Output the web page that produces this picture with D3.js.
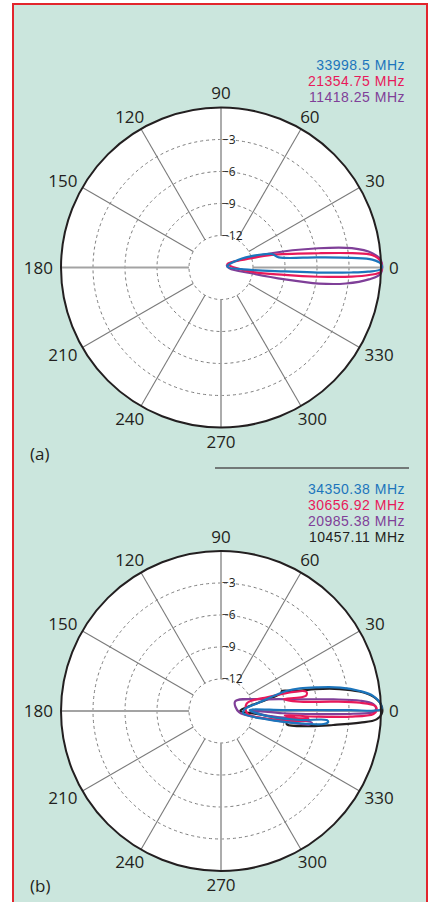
<!DOCTYPE html>
<html>
<head>
<meta charset="utf-8">
<script src="https://cdn.jsdelivr.net/npm/d3@7"></script>
<style>
  html, body { margin: 0; padding: 0; background: #ffffff; }
  svg { display: block; }
  text { font-family: "Open Sans", "Noto Sans", sans-serif; fill: #231f20; }
</style>
</head>
<body>
<div id="chart"></div>
<script>
// ---------------------------------------------------------------------------
// Diagrammi polari (dB) di due antenne, pannelli (a) e (b)
// ---------------------------------------------------------------------------

// tick ------------------------------------------------------------------------
const angleTicks = [0, 30, 60, 90, 120, 150, 180, 210, 240, 270, 300, 330];
const dbTicks = [-3, -6, -9, -12];

// legende ---------------------------------------------------------------------
const legendA = ['33998.5 MHz', '21354.75 MHz', '11418.25 MHz'];
const legendB = ['34350.38 MHz', '30656.92 MHz', '20985.38 MHz', '10457.11 MHz'];

// pannello (a): angolo (gradi) e guadagno (dB) -------------------------------
const a1Ang = [24, 15, 10, 6, 4.2, 3, 1.3, -0.6, -1.6, -2.2, -3, -3.5, -4.5, 8];
const a1Db  = [-13.2, -10.1, -9.5, -5.9, -2.7, -0.8, 0, 0, -1.2, -2.8, -5.9, -9.0, -12.2, -14.4];

const a2Ang = [29, 16.8, 14, 8.3, 6.2, 4.75, 2.1, -1.5, -2.9, -4.0, -5.4, -6.7, -7.9];
const a2Db  = [-14.3, -12.0, -10.1, -5.75, -2.6, -0.8, 0, 0, -1.1, -2.7, -5.8, -9.0, -12.1];

const a3Ang = [22, 15.8, 11.2, 8.4, 5.4, 2.7, -2.1, -4.6, -7.3, -9.3, -10.5, -10.8, -6];
const a3Db  = [-14.4, -10.1, -5.7, -2.6, -0.75, 0, 0, -1.1, -3.2, -5.7, -8.9, -12.1, -14.2];

// pannello (b) ----------------------------------------------------------------
const b1Ang = [4, 12, 17, 16, 13.9, 11.1, 8.2, 5.6, 2.4, 0.6, 0.4, 0.6, 0.9, 2, -6.2, -6.5, -4.9, -5.9, -7.2, -8.9, -10.3, -5.9];
const b1Db  = [-12.8, -11.5, -8.6, -7.3, -5.8, -3.6, -1.85, -0.65, 0, 0, -2.9, -6.0, -9.2, -12.3, -10.7, -7.55, -5.05, -4.9, -5.3, -7.5, -10.6, -12.9];

const b2Ang = [16, 16.7, 12.7, 10.2, 10.6, 6.7, 4.75, 3.4, 1.9, 0.4, -1.1, -2.5, -3.4, -3.8, -5.5, -5.0, -6.3, -8.0, -6];
const b2Db  = [-12.5, -10.5, -6.8, -6.9, -9.0, -7.55, -4.4, -1.95, -0.55, -0.4, -0.7, -2.9, -6.0, -9.0, -8.0, -6.8, -6.9, -8.5, -12.5];

const b3Ang = [34, 14.4, 8.4, 5.9, 4.2, 2.6, 1, -0.4, -1.2, -1.8, -2.1, 0.6, -5.5, -6.3, -7.4, -8.6, -9.5, -9.8, -4];
const b3Db  = [-13.4, -10.6, -7.5, -4.4, -1.9, -0.7, -0.45, -0.7, -2.6, -6.0, -9.2, -12.3, -10.8, -7.6, -6.4, -6.6, -8.5, -11.0, -13.3];

const b4Ang = [5, 16.5, 18.2, 14.8, 13, 10.5, 8, 5.5, 2.4, -0.6, -3.1, -4.8, -7.1, -9.6, -11.5, -8.7, -5, 0];
const b4Db  = [-13.0, -9.1, -9.0, -7.7, -5.9, -3.7, -1.9, -0.7, 0, 0.1, -0.4, -1.9, -4.4, -6.5, -8.7, -8.8, -11.5, -13.2];

const colors = { blue: '#1c75bc', red: '#e8195a', purple: '#7f3f98', black: '#231f20' };

const seriesA = [
  { ang: a3Ang, db: a3Db, color: colors.purple },
  { ang: a2Ang, db: a2Db, color: colors.red },
  { ang: a1Ang, db: a1Db, color: colors.blue }
];
const seriesB = [
  { ang: b4Ang, db: b4Db, color: colors.black },
  { ang: b3Ang, db: b3Db, color: colors.purple },
  { ang: b2Ang, db: b2Db, color: colors.red },
  { ang: b1Ang, db: b1Db, color: colors.blue }
];

// impostazioni ----------------------------------------------------------------
const width = 430, height = 902;
const cx = 221, R = 160;

const svg = d3.select('#chart').append('svg')
  .attr('width', width)
  .attr('height', height);

// sfondo e cornice
svg.append('rect')
  .attr('x', 13).attr('y', 4)
  .attr('width', 414).attr('height', 920)
  .attr('fill', '#cbe6dd')
  .attr('stroke', '#e2252c')
  .attr('stroke-width', 2);

// scala radiale (dB -> pixel)
const r = d3.scaleLinear().domain([-15, 0]).range([0, R]);
const rad = v => Math.max(0, r(v));

function drawPanel(cy, series, legend, legendY, legendStep, tagY, tag) {
  const g = svg.append('g').attr('transform', `translate(${cx},${cy})`);

  // disco bianco
  g.append('circle').attr('r', R).attr('fill', '#ffffff');

  // cerchi tratteggiati
  g.selectAll('.ring')
    .data(dbTicks)
    .enter().append('circle')
    .attr('r', d => rad(d))
    .attr('fill', 'none')
    .attr('stroke', '#7d7d7d')
    .attr('stroke-width', 1)
    .attr('stroke-dasharray', '3,3');

  // raggi ogni 30 gradi
  g.selectAll('.spoke')
    .data(angleTicks)
    .enter().append('line')
    .attr('x1', d => rad(-12) * Math.cos(d * Math.PI / 180))
    .attr('y1', d => -rad(-12) * Math.sin(d * Math.PI / 180))
    .attr('x2', d => R * Math.cos(d * Math.PI / 180))
    .attr('y2', d => -R * Math.sin(d * Math.PI / 180))
    .attr('stroke', d => d % 90 === 0 ? '#a3a3a3' : '#7a7a7a')
    .attr('stroke-width', d => d % 90 === 0 ? 1.8 : 1.1);

  // etichette dB sul raggio verticale
  g.selectAll('.dbl')
    .data(dbTicks)
    .enter().append('text')
    .attr('x', 1)
    .attr('y', d => -rad(d))
    .attr('dy', '0.35em')
    .style('font-size', '12px')
    .text(d => '\u2212' + Math.abs(d));

  // curve di radiazione
  const line = d3.lineRadial()
    .angle(d => (90 - d.a) * Math.PI / 180)
    .radius(d => rad(d.v))
    .curve(d3.curveCatmullRomClosed.alpha(0.5));

  series.forEach(s => {
    const pts = s.ang.map((a, i) => ({ a: a, v: s.db[i] }));
    g.append('path')
      .attr('d', line(pts))
      .attr('fill', 'none')
      .attr('stroke', s.color)
      .attr('stroke-width', 2.2)
      .attr('stroke-linejoin', 'round');
  });

  // bordo esterno
  g.append('circle').attr('r', R)
    .attr('fill', 'none')
    .attr('stroke', '#231f20')
    .attr('stroke-width', 2);

  // etichette angolari
  g.selectAll('.angl')
    .data(angleTicks)
    .enter().append('text')
    .style('font-size', '17px')
    .attr('text-anchor', 'middle')
    .attr('dy', '0.36em')
    .text(d => d)
    .each(function (d) {
      const t = d * Math.PI / 180;
      const w = this.getComputedTextLength();
      const h = 12.5;
      const px = (R + 8) * Math.cos(t) + Math.cos(t) * w / 2;
      const py = -(R + 8) * Math.sin(t) - Math.sin(t) * h / 2;
      d3.select(this).attr('x', px).attr('y', py);
    });

  // legenda
  svg.append('g').selectAll('text')
    .data(legend)
    .enter().append('text')
    .attr('x', 405)
    .attr('y', (d, i) => legendY + i * legendStep)
    .attr('dy', '0.36em')
    .attr('text-anchor', 'end')
    .style('font-family', '"Liberation Sans", Arial, sans-serif')
    .style('font-size', '14px')
    .style('letter-spacing', '0.5px')
    .style('fill', (d, i) => series[series.length - 1 - i].color)
    .text(d => d);

  // sigla del pannello
  svg.append('text')
    .attr('x', 30)
    .attr('y', tagY)
    .attr('dy', '0.36em')
    .style('font-size', '17px')
    .text(tag);
}

drawPanel(267.5, seriesA, legendA, 65, 15.8, 454, '(a)');

// linea di separazione
svg.append('line')
  .attr('x1', 215).attr('x2', 409)
  .attr('y1', 468).attr('y2', 468)
  .attr('stroke', '#555555')
  .attr('stroke-width', 1.5);

drawPanel(711, seriesB, legendB, 489, 16, 886, '(b)');
</script>
</body>
</html>
